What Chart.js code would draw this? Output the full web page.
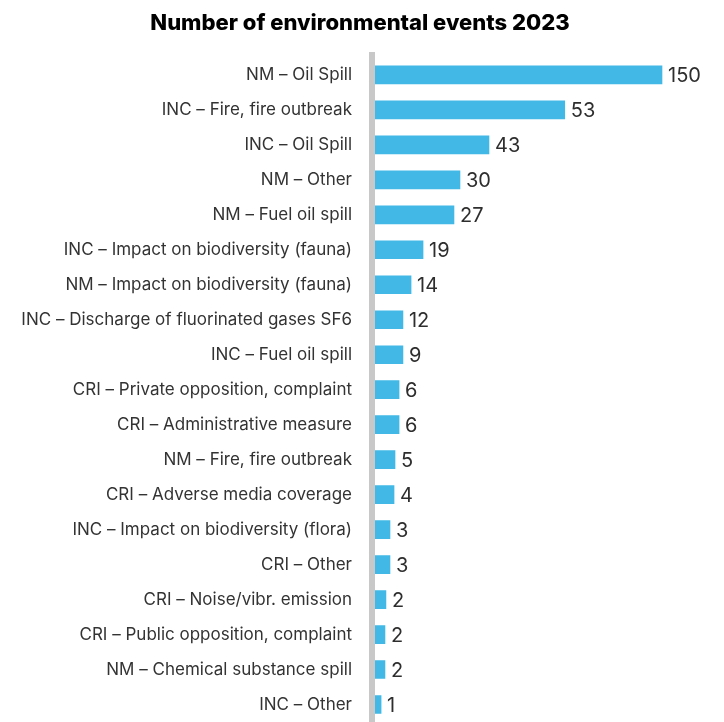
<!DOCTYPE html>
<html>
<head>
<meta charset="utf-8">
<script src="https://cdn.jsdelivr.net/npm/chart.js@4/dist/chart.umd.min.js"></script>
<style>
  html, body { margin: 0; padding: 0; background: #fff; overflow: hidden; }
  canvas { display: block; }
</style>
</head>
<body>
<canvas id="eventsChart" width="724" height="722"></canvas>
<script>
// Event categories, top to bottom
const categories = [
  "NM – Oil Spill",
  "INC – Fire, fire outbreak",
  "INC – Oil Spill",
  "NM – Other",
  "NM – Fuel oil spill",
  "INC – Impact on biodiversity (fauna)",
  "NM – Impact on biodiversity (fauna)",
  "INC – Discharge of fluorinated gases SF6",
  "INC – Fuel oil spill",
  "CRI – Private opposition, complaint",
  "CRI – Administrative measure",
  "NM – Fire, fire outbreak",
  "CRI – Adverse media coverage",
  "INC – Impact on biodiversity (flora)",
  "CRI – Other",
  "CRI – Noise/vibr. emission",
  "CRI – Public opposition, complaint",
  "NM – Chemical substance spill",
  "INC – Other"
];

// Printed event counts
const counts = [150, 53, 43, 30, 27, 19, 14, 12, 9, 6, 6, 5, 4, 3, 3, 2, 2, 2, 1];

// Bar lengths as drawn in the original (not proportional to counts),
// in units where the longest bar = 150
const barLengths = [150, 99.7, 60.5, 45.5, 42.4, 26.4, 20.2, 16.0, 16.0, 14.0, 14.0, 11.9, 11.4, 9.3, 9.3, 7.2, 6.7, 6.7, 4.7];

const barColor = '#41b8e5';
const axisGray = '#c8c8c8';

// grey vertical axis line, drawn over the bar starts
const axisLinePlugin = {
  id: 'axisLine',
  afterDatasetsDraw(chart) {
    const { ctx, chartArea } = chart;
    ctx.save();
    ctx.fillStyle = axisGray;
    ctx.fillRect(chartArea.left - 3, 52, 6, chart.height - 52);
    ctx.restore();
  }
};

// count labels after each bar
const valueLabelPlugin = {
  id: 'valueLabels',
  afterDatasetsDraw(chart) {
    const { ctx } = chart;
    const meta = chart.getDatasetMeta(0);
    ctx.save();
    ctx.font = '20px Inter';
    ctx.fillStyle = '#2e2e2e';
    ctx.textAlign = 'left';
    ctx.textBaseline = 'middle';
    meta.data.forEach((bar, i) => {
      ctx.fillText(String(counts[i]), bar.x + 6, bar.y + 1);
    });
    ctx.restore();
  }
};

const ctx = document.getElementById('eventsChart').getContext('2d');
const chart = new Chart(ctx, {
  type: 'bar',
  data: {
    labels: categories,
    datasets: [{
      data: barLengths,
      backgroundColor: barColor,
      barThickness: 18,
      borderWidth: 0
    }]
  },
  options: {
    indexAxis: 'y',
    responsive: false,
    animation: false,
    layout: { padding: { left: 0, right: 4, top: 0, bottom: 0 } },
    scales: {
      x: {
        display: false,
        min: 0,
        max: 180
      },
      y: {
        grid: { display: false, drawTicks: false },
        border: { display: false },
        afterFit(scale) {
          scale.width = 372;
          // the tick padding would otherwise leave a gap under the last row
          scale.paddingTop = 0;
          scale.paddingBottom = 0;
        },
        ticks: {
          padding: 20,
          color: '#333333',
          font: { family: 'Inter', size: 17 }
        }
      }
    },
    plugins: {
      legend: { display: false },
      tooltip: { enabled: false },
      title: {
        display: true,
        text: 'Number of environmental events 2023',
        color: '#000000',
        font: { family: 'Inter', size: 22, weight: '800' },
        padding: { top: 10, bottom: 21 }
      }
    }
  },
  plugins: [axisLinePlugin, valueLabelPlugin]
});
</script>
</body>
</html>
